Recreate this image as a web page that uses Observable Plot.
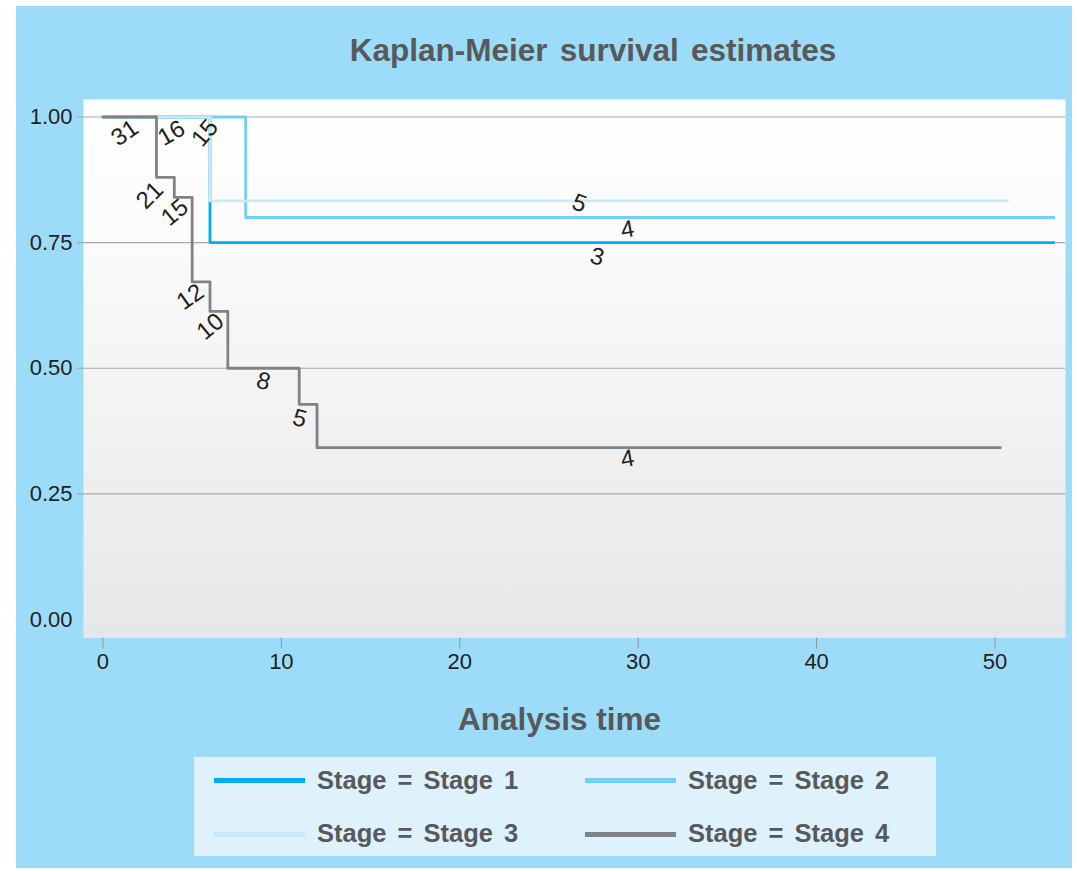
<!DOCTYPE html>
<html><head><meta charset="utf-8">
<script src="https://cdn.jsdelivr.net/npm/d3@7"></script>
<script src="https://cdn.jsdelivr.net/npm/@observablehq/plot@0.6"></script>
<style>
body{margin:0;background:#fff;}
#wrap{position:relative;width:1077px;height:872px;font-family:"Liberation Sans",Arial,Helvetica,sans-serif;overflow:hidden;}
#panel{position:absolute;left:16px;top:6px;width:1056px;height:862px;background:#9cdcf8;}
#chart{position:absolute;left:0;top:0;}
.big{position:absolute;font-weight:bold;color:#58595b;white-space:nowrap;line-height:1;}
#title{font-size:31.5px;word-spacing:3.5px;left:593px;top:35px;transform:translateX(-50%);}
#xlabel{font-size:31.5px;left:559.5px;top:704px;transform:translateX(-50%);}
#legend{position:absolute;left:194px;top:757px;width:742px;height:99px;background:#dff1fb;}
.sw{position:absolute;width:91px;height:5px;}
.lt{position:absolute;font-size:25.5px;font-weight:bold;color:#58595b;white-space:nowrap;line-height:1;word-spacing:4px;}
</style></head>
<body>
<div id="wrap">
  <div id="panel"></div>
  <div id="chart"></div>
  <div id="title" class="big"></div>
  <div id="xlabel" class="big"></div>
  <div id="legend"></div>
</div>
<script>
// ---- data ----
const titleText = "Kaplan-Meier survival estimates";
const xLabelText = "Analysis time";
const stages = ["Stage 1", "Stage 2", "Stage 3", "Stage 4"];
const stageColors = ["#00adee", "#72cff5", "#c6eaf9", "#808285"];

const stage1Time = [0, 6, 53.3];
const stage1Surv = [1, 0.75, 0.75];
const stage2Time = [0, 8, 53.3];
const stage2Surv = [1, 0.80, 0.80];
const stage3Time = [0, 6, 50.7];
const stage3Surv = [1, 0.833, 0.833];
const stage4Time = [0, 3, 4, 5, 6, 7, 11, 12, 50.3];
const stage4Surv = [1, 0.88, 0.84, 0.672, 0.613, 0.50, 0.428, 0.342, 0.342];

const labelText  = ["31", "16", "15", "21", "15", "12", "10", "8", "5", "5", "4", "3", "4"];
const labelTime  = [1.23, 3.84, 5.71, 2.63, 4.03, 4.9, 6.02, 9.0, 11.02, 26.7, 29.4, 27.7, 29.4];
const labelSurv  = [0.968, 0.968, 0.968, 0.844, 0.81, 0.642, 0.583, 0.474, 0.40, 0.828, 0.776, 0.722, 0.32];
const labelAngle = [-35, -30, -50, -45, -40, -35, -40, 15, 15, 20, -10, 15, -10];

const xTicks = [0, 10, 20, 30, 40, 50];
const yTicks = [0, 0.25, 0.5, 0.75, 1];
const gridTicks = [0.25, 0.5, 0.75, 1];

// ---- build tables ----
const times = [stage1Time, stage2Time, stage3Time, stage4Time];
const survs = [stage1Surv, stage2Surv, stage3Surv, stage4Surv];
const curves = [];
stages.forEach((s, i) => times[i].forEach((t, j) => curves.push({stage: s, time: t, surv: survs[i][j]})));
const labels = labelText.map((t, i) => ({text: t, time: labelTime[i], surv: labelSurv[i], angle: labelAngle[i]}));

const plot = Plot.plot({
  width: 1077, height: 872,
  marginLeft: 83, marginRight: 12, marginTop: 99, marginBottom: 234.5,
  style: {background: "transparent", overflow: "visible", fontFamily: "'Liberation Sans', Arial, Helvetica, sans-serif"},
  x: {domain: [-1.09, 53.95]},
  y: {domain: [-0.0368, 1.0348]},
  color: {domain: stages, range: stageColors},
  marks: [
    Plot.frame({fill: "url(#kmbg)", stroke: null}),
    Plot.gridY(gridTicks, {stroke: "#a7a9ac", strokeOpacity: 1, strokeWidth: 1.2, insetLeft: -6}),
    Plot.axisY(yTicks, {tickSize: 0, tickPadding: 11, tickFormat: d => d.toFixed(2), fontSize: 22, fill: "#231f20", label: null}),
    Plot.axisX(xTicks, {tickSize: 11, tickPadding: 4.5, fontSize: 22, fill: "#231f20", stroke: "#939598", label: null}),
    Plot.line(curves, {x: "time", y: "surv", z: "stage", stroke: "stage", curve: "step-after", strokeWidth: 2.8}),
    Plot.text(labels, {x: "time", y: "surv", text: "text", rotate: "angle", fontSize: 24, fill: "#231f20"})
  ]
});

const defs = d3.select(plot).insert("defs", ":first-child");
const g = defs.append("linearGradient").attr("id", "kmbg").attr("x1", 0).attr("y1", 0).attr("x2", 0).attr("y2", 1);
g.append("stop").attr("offset", "0").attr("stop-color", "#ffffff");
g.append("stop").attr("offset", "0.25").attr("stop-color", "#fbfbfb");
g.append("stop").attr("offset", "1").attr("stop-color", "#e6e7e9");

document.getElementById("chart").appendChild(plot);
document.getElementById("title").textContent = titleText;
document.getElementById("xlabel").textContent = xLabelText;

// ---- legend ----
const legend = document.getElementById("legend");
const colX = [20, 391];
const rowY = [23.7, 77];
stages.forEach((s, i) => {
  const c = i % 2, r = Math.floor(i / 2);
  const sw = document.createElement("div");
  sw.className = "sw";
  sw.style.left = colX[c] + "px";
  sw.style.top = (rowY[r] - 2.5) + "px";
  sw.style.background = stageColors[i];
  legend.appendChild(sw);
  const t = document.createElement("div");
  t.className = "lt";
  t.style.left = (colX[c] + 103) + "px";
  t.style.top = (rowY[r] - 13) + "px";
  t.textContent = "Stage = " + s;
  legend.appendChild(t);
});
</script>
</body></html>
